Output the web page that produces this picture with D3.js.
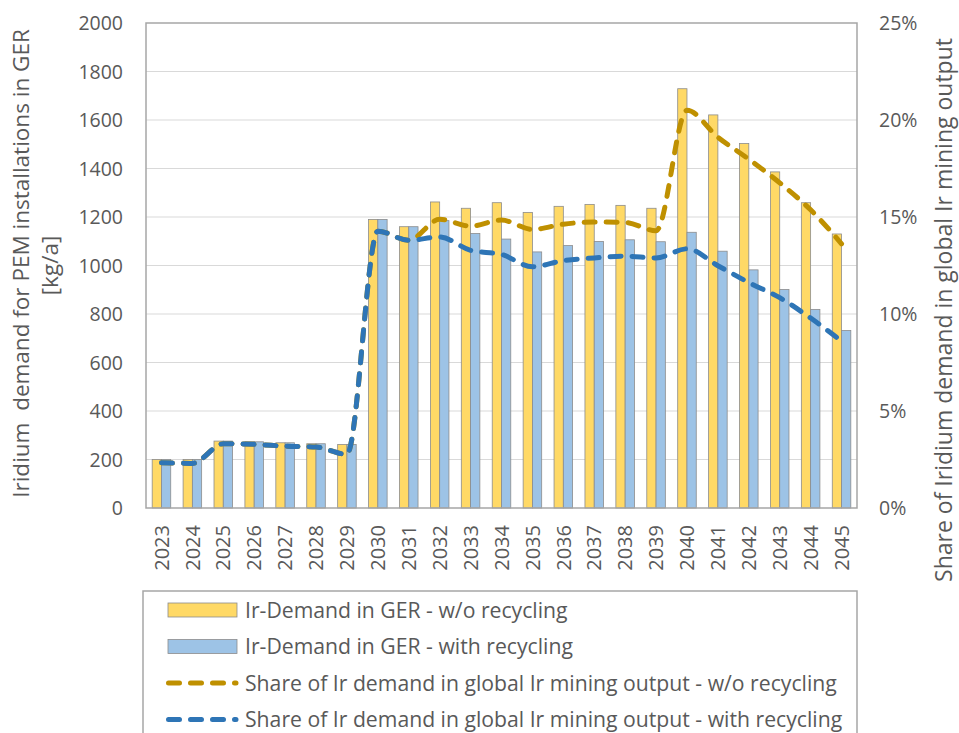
<!DOCTYPE html>
<html>
<head>
<meta charset="utf-8">
<script src="https://cdn.jsdelivr.net/npm/d3@7/dist/d3.min.js"></script>
<style>
  html, body { margin: 0; padding: 0; background: #fff; }
  svg text { font-family: "Open Sans", sans-serif; fill: #595959; }
</style>
</head>
<body>
<svg id="chart" width="959" height="733"></svg>
<script>
// chart values
const years = ["2023", "2024", "2025", "2026", "2027", "2028", "2029", "2030", "2031", "2032", "2033", "2034",
               "2035", "2036", "2037", "2038", "2039", "2040", "2041", "2042", "2043", "2044", "2045"];
const demandNoRecycling = [200, 200, 276, 273, 269, 265, 262, 1190, 1160, 1262, 1236, 1259,
                           1219, 1244, 1252, 1248, 1236, 1729, 1621, 1503, 1386, 1259, 1130];
const demandRecycling = [200, 200, 276, 273, 269, 265, 262, 1190, 1160, 1185, 1132, 1109,
                         1056, 1082, 1099, 1106, 1098, 1137, 1059, 982, 901, 819, 732];
// share of global mining output, in %
const shareNoRecycling = [2.33, 2.30, 3.31, 3.28, 3.19, 3.14, 2.77, 14.27, 13.8, 14.88, 14.53, 14.84,
                          14.36, 14.63, 14.74, 14.72, 14.29, 20.5, 19.11, 17.98, 16.76, 15.37, 13.62];
const shareRecycling = [2.33, 2.30, 3.31, 3.28, 3.19, 3.14, 2.77, 14.27, 13.8, 13.97, 13.28, 13.07,
                        12.44, 12.75, 12.89, 12.98, 12.89, 13.36, 12.49, 11.62, 10.84, 9.79, 8.6];
const leftTicks = [0, 200, 400, 600, 800, 1000, 1200, 1400, 1600, 1800, 2000];
const rightTicks = [0, 5, 10, 15, 20, 25];

const legendLabels = [
    "Ir-Demand in GER - w/o recycling",
    "Ir-Demand in GER - with recycling",
    "Share of Ir demand in global Ir mining output - w/o recycling",
    "Share of Ir demand in global Ir mining output - with recycling"
];

const colors = {
    barNo: "#FFD966", barWith: "#9DC3E6",
    lineNo: "#BF9000", lineWith: "#2E75B6",
    grid: "#D9D9D9", frame: "#A6A6A6", barEdge: "#8C8C8C"
};

const svg = d3.select("#chart");
const margin = { top: 23, right: 102, bottom: 225, left: 146 };
const width = 959 - margin.left - margin.right;
const height = 733 - margin.top - margin.bottom;

const chart = svg.append("g")
    .attr("transform", `translate(${margin.left},${margin.top})`);

// scales
const x0 = d3.scaleBand().domain(years).range([0, width]);
const x1 = d3.scaleBand()
    .domain(["no", "with"])
    .range([x0.bandwidth() * 0.2, x0.bandwidth() * 0.8]);
const yLeft = d3.scaleLinear().domain([0, 2000]).range([height, 0]);
const yRight = d3.scaleLinear().domain([0, 25]).range([height, 0]);

// gridlines
chart.selectAll(".grid")
    .data(leftTicks.slice(1, -1))
    .enter()
    .append("line")
    .attr("x1", 0)
    .attr("x2", width)
    .attr("y1", d => yLeft(d))
    .attr("y2", d => yLeft(d))
    .attr("stroke", colors.grid)
    .attr("stroke-width", 1.2);

// bars
const rows = years.map((y, i) => ({ year: y, no: demandNoRecycling[i], with: demandRecycling[i] }));
const groups = chart.selectAll(".year")
    .data(rows)
    .enter()
    .append("g")
    .attr("transform", d => `translate(${x0(d.year)},0)`);

groups.selectAll("rect")
    .data(d => [{ key: "no", v: d.no }, { key: "with", v: d.with }])
    .enter()
    .append("rect")
    .attr("x", d => x1(d.key))
    .attr("y", d => yLeft(d.v))
    .attr("width", x1.bandwidth())
    .attr("height", d => height - yLeft(d.v))
    .attr("fill", d => d.key === "no" ? colors.barNo : colors.barWith)
    .attr("stroke", colors.barEdge)
    .attr("stroke-width", 0.8);

// smoothed dashed share lines
const line = d3.line()
    .x((d, i) => x0(years[i]) + x0.bandwidth() / 2)
    .y(d => yRight(d))
    .curve(d3.curveMonotoneX);

[[shareNoRecycling, colors.lineNo], [shareRecycling, colors.lineWith]].forEach(([vals, c]) => {
    chart.append("path")
        .datum(vals)
        .attr("d", line)
        .attr("fill", "none")
        .attr("stroke", c)
        .attr("stroke-width", 5)
        .attr("stroke-dasharray", "11 11")
        .attr("stroke-linecap", "round");
});

// plot frame
chart.append("rect")
    .attr("width", width)
    .attr("height", height)
    .attr("fill", "none")
    .attr("stroke", colors.frame)
    .attr("stroke-width", 1.5);

// left axis labels
chart.selectAll(".ytick")
    .data(leftTicks)
    .enter()
    .append("text")
    .attr("x", -23)
    .attr("y", d => yLeft(d))
    .attr("dy", "0.36em")
    .attr("text-anchor", "end")
    .style("font-size", "19.5px")
    .text(d => d);

// right axis labels
chart.selectAll(".rtick")
    .data(rightTicks)
    .enter()
    .append("text")
    .attr("x", width + 22)
    .attr("y", d => yRight(d))
    .attr("dy", "0.36em")
    .attr("text-anchor", "start")
    .style("font-size", "19.5px")
    .text(d => d + "%");

// year labels, rotated
chart.selectAll(".xtick")
    .data(years)
    .enter()
    .append("text")
    .attr("transform", d => `translate(${x0(d) + x0.bandwidth() / 2},${height + 17}) rotate(-90)`)
    .attr("dy", "0.36em")
    .attr("text-anchor", "end")
    .style("font-size", "20px")
    .text(d => d);

// axis titles
const midY = margin.top + height / 2;
svg.append("text")
    .attr("transform", `translate(21,${midY - 2}) rotate(-90)`)
    .attr("dy", "0.36em")
    .attr("text-anchor", "middle")
    .style("font-size", "22.5px")
    .style("white-space", "pre")
    .text("Iridium  demand for PEM installations in GER");
svg.append("text")
    .attr("transform", `translate(50,${midY}) rotate(-90)`)
    .attr("dy", "0.36em")
    .attr("text-anchor", "middle")
    .style("font-size", "22.5px")
    .text("[kg/a]");
svg.append("text")
    .attr("transform", `translate(952,310) rotate(-90)`)
    .attr("text-anchor", "middle")
    .style("font-size", "23px")
    .text("Share of Iridium demand in global Ir mining output");

// legend
const legend = svg.append("g").attr("transform", "translate(143,591)");
legend.append("rect")
    .attr("width", 714)
    .attr("height", 160)
    .attr("fill", "#fff")
    .attr("stroke", colors.frame)
    .attr("stroke-width", 1.5);

const legendRows = legend.selectAll(".lg")
    .data(legendLabels)
    .enter()
    .append("g")
    .attr("transform", (d, i) => `translate(0,${19 + i * 36.5})`);

legendRows.each(function (d, i) {
    const g = d3.select(this);
    if (i < 2) {
        g.append("rect")
            .attr("x", 25).attr("y", -7)
            .attr("width", 69).attr("height", 14)
            .attr("fill", i === 0 ? colors.barNo : colors.barWith)
            .attr("stroke", colors.barEdge)
            .attr("stroke-width", 0.8);
    } else {
        g.append("line")
            .attr("x1", 25.5).attr("x2", 93)
            .attr("stroke", i === 2 ? colors.lineNo : colors.lineWith)
            .attr("stroke-width", 5)
            .attr("stroke-dasharray", "11 11")
            .attr("stroke-linecap", "round");
    }
    g.append("text")
        .attr("x", 102)
        .attr("dy", "0.36em")
        .style("font-size", "21.2px")
        .text(d);
});
</script>
</body>
</html>
